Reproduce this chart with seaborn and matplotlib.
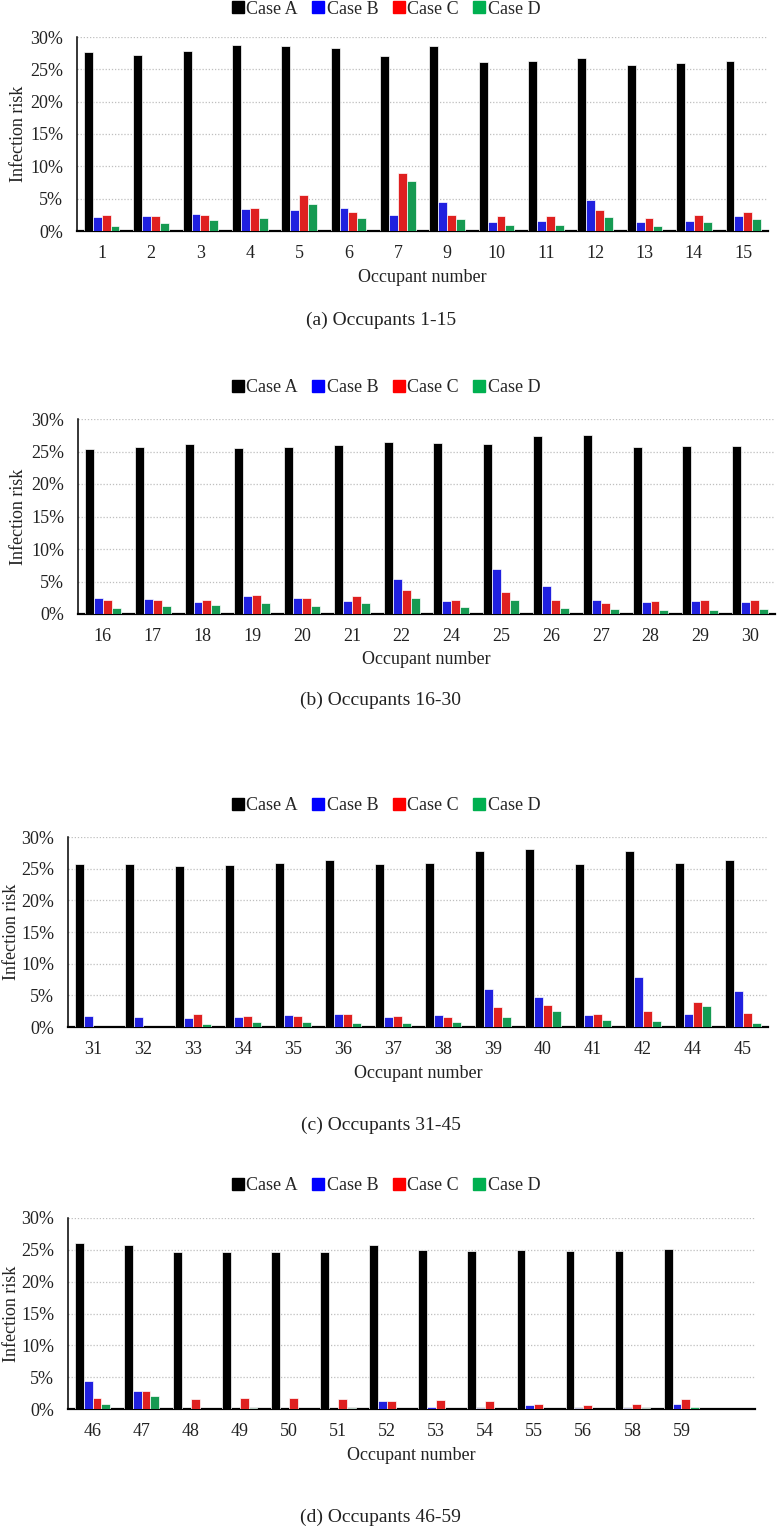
import pandas as pd
import matplotlib
matplotlib.use("Agg")
import matplotlib.pyplot as plt
import seaborn as sns

# occupant numbers per panel
occ_a = [1, 2, 3, 4, 5, 6, 7, 9, 10, 11, 12, 13, 14, 15]
occ_b = [16, 17, 18, 19, 20, 21, 22, 24, 25, 26, 27, 28, 29, 30]
occ_c = [31, 32, 33, 34, 35, 36, 37, 38, 39, 40, 41, 42, 44, 45]
occ_d = [46, 47, 48, 49, 50, 51, 52, 53, 54, 55, 56, 58, 59]

# infection risk (%)
a1 = [27.7, 27.2, 27.8, 28.7, 28.6, 28.3, 27.1, 28.6, 26.2, 26.3, 26.7, 25.7, 26.0, 26.3]
b1 = [2.1, 2.3, 2.7, 3.4, 3.3, 3.5, 2.5, 4.5, 1.4, 1.6, 4.8, 1.4, 1.5, 2.3]
c1 = [2.5, 2.3, 2.4, 3.6, 5.6, 3.0, 9.0, 2.5, 2.3, 2.3, 3.3, 2.0, 2.5, 3.0]
d1 = [0.8, 1.3, 1.7, 2.0, 4.2, 2.0, 7.8, 1.9, 1.0, 1.0, 2.2, 0.8, 1.4, 1.9]

a2 = [25.4, 25.7, 26.1, 25.5, 25.7, 26.0, 26.5, 26.3, 26.1, 27.4, 27.5, 25.7, 25.8, 25.8]
b2 = [2.5, 2.3, 1.85, 2.8, 2.4, 1.95, 5.4, 1.95, 6.9, 4.3, 2.2, 1.85, 1.95, 1.85]
c2 = [2.1, 2.1, 2.2, 3.0, 2.5, 2.7, 3.7, 2.1, 3.4, 2.1, 1.75, 1.95, 2.1, 2.1]
d2 = [0.85, 1.2, 1.45, 1.75, 1.3, 1.65, 2.4, 1.1, 2.1, 0.85, 0.8, 0.65, 0.65, 0.8]

a3 = [25.8, 25.8, 25.5, 25.6, 25.9, 26.3, 25.8, 25.9, 27.8, 28.1, 25.8, 27.8, 25.9, 26.3]
b3 = [1.7, 1.6, 1.5, 1.6, 1.85, 2.05, 1.6, 1.85, 6.0, 4.8, 1.95, 7.9, 2.0, 5.7]
c3 = [0.0, 0.0, 2.0, 1.7, 1.7, 2.05, 1.7, 1.6, 3.1, 3.5, 2.05, 2.5, 4.0, 2.2]
d3 = [0.0, 0.0, 0.5, 0.8, 0.8, 0.6, 0.6, 0.8, 1.6, 2.6, 1.05, 0.95, 3.3, 0.6]

a4 = [26.1, 25.7, 24.7, 24.7, 24.7, 24.7, 25.7, 24.9, 24.8, 25.0, 24.8, 24.8, 25.2]
b4 = [4.4, 2.8, 0.0, 0.0, 0.0, 0.0, 1.2, 0.3, 0.15, 0.65, 0.15, 0.2, 0.85]
c4 = [1.8, 2.8, 1.6, 1.7, 1.7, 1.6, 1.2, 1.4, 1.2, 0.75, 0.65, 0.85, 1.5]
d4 = [0.85, 2.1, 0.0, 0.2, 0.0, 0.2, 0.0, 0.0, 0.0, 0.0, 0.0, 0.15, 0.3]

cases = ["Case A", "Case B", "Case C", "Case D"]
colors = ["#000000", "#0000FF", "#FF0000", "#00B050"]
captions = ["(a) Occupants 1-15", "(b) Occupants 16-30",
            "(c) Occupants 31-45", "(d) Occupants 46-59"]

panels = [(occ_a, a1, b1, c1, d1), (occ_b, a2, b2, c2, d2),
          (occ_c, a3, b3, c3, d3), (occ_d, a4, b4, c4, d4)]

sns.set_theme(style="white")
plt.rcParams['font.family'] = ['Liberation Serif', 'DejaVu Serif']

W, H = 777, 1526
fig = plt.figure(figsize=(W / 100, H / 100), dpi=100)

# pixel boxes: left, right, top(30%), bottom(0%), legend y, xlabel y, caption y, ylabel x
boxes = [(77, 768, 37, 231, 9, 277, 320, 19),
         (78, 775, 419, 614, 388, 660, 700, 19),
         (68, 768, 837, 1027, 806, 1073, 1125, 12),
         (68, 755, 1218, 1409, 1186, 1455, 1517, 12)]

for (occ, a, b, c, d), (l, r, t, bt, ly, xly, cy, ylx), cap in zip(panels, boxes, captions):
    df = pd.DataFrame({
        "occupant": [str(o) for o in occ] * 4,
        "case": sum([[cs] * len(occ) for cs in cases], []),
        "risk": [v / 100 for v in a + b + c + d],
    })
    ax = fig.add_axes([l / W, 1 - bt / H, (r - l) / W, (bt - t) / H])
    sns.barplot(data=df, x="occupant", y="risk", hue="case", hue_order=cases,
                palette=colors, width=0.72, errorbar=None, edgecolor="white",
                linewidth=0.5, ax=ax, zorder=3)
    ax.set_xlim(-0.5, 13.5)
    ax.set_ylim(0, 0.30)
    ax.set_yticks([0, 0.05, 0.10, 0.15, 0.20, 0.25, 0.30])
    ax.set_yticklabels(["0%", "5%", "10%", "15%", "20%", "25%", "30%"])
    ax.yaxis.grid(True, linestyle=(0, (1, 1.5)), color="#BFBFBF", linewidth=0.9)
    ax.set_axisbelow(True)
    for s in ["top", "right"]:
        ax.spines[s].set_visible(False)
    ax.spines["left"].set_color("black")
    ax.spines["left"].set_linewidth(1.1)
    ax.spines["bottom"].set_color("black")
    ax.spines["bottom"].set_linewidth(1.6)
    ax.tick_params(axis="both", length=0, labelsize=13, colors="#222222")
    ax.tick_params(axis="y", pad=10)
    ax.tick_params(axis="x", pad=10)
    ax.set_xlabel("")
    ax.set_ylabel("")
    ax.legend_.remove()
    handles = [plt.Rectangle((0, 0), 1, 1, color=col) for col in colors]
    fig.legend(handles, cases, loc="center", bbox_to_anchor=(0.497, 1 - ly / H),
               ncol=4, frameon=False, fontsize=13, handlelength=0.65,
               handleheight=0.65, handletextpad=0.15, columnspacing=0.8)
    fig.text(ylx / W, 1 - ((t + bt) / 2) / H, "Infection risk", rotation=90,
             ha="center", va="center", fontsize=13, color="#222222")
    fig.text(((l + r) / 2) / W, 1 - xly / H, "Occupant number", ha="center",
             va="center", fontsize=13, color="#222222")
    fig.text(0.49, 1 - cy / H, cap, ha="center", va="center", fontsize=14,
             color="#222222")

fig.savefig("out.png", dpi=100)
